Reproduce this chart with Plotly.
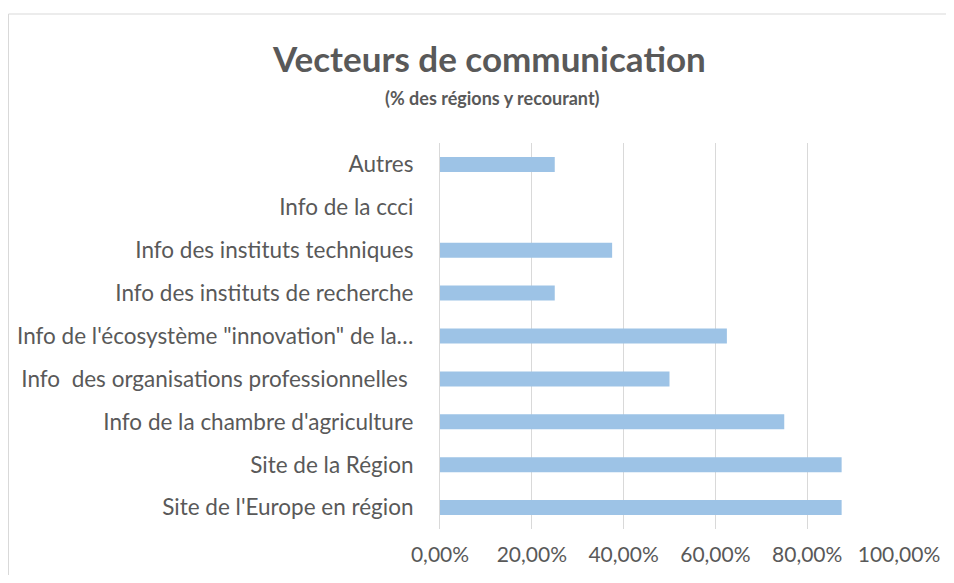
import plotly.graph_objects as go

categories = [
    "Autres",
    "Info de la ccci",
    "Info des instituts techniques",
    "Info des instituts de recherche",
    "Info de l'écosystème \"innovation\" de la…",
    "Info\u00a0 des organisations professionnelles\u00a0",
    "Info de la chambre d'agriculture",
    "Site de la Région",
    "Site de l'Europe en région",
]
values = [0.25, 0.0, 0.375, 0.25, 0.625, 0.50, 0.75, 0.875, 0.875]
x_ticks = [0, 0.2, 0.4, 0.6, 0.8, 1.0]

OFF = 8  # page body margin
W, H = 954 - 2 * OFF, 583 - 2 * OFF
# plot area in screen pixels: x 440..899, y 143..529
L = 440 - OFF
R = W - (899 - OFF)
T = 143 - OFF
B = H - (529 - OFF)
pw, ph = W - L - R, H - T - B

def px(x):
    return (x - OFF - L) / pw

def py(y):
    return (H - B - (y - OFF)) / ph

FONT = "Lato, Calibri, sans-serif"
GREY = "#595959"

fig = go.Figure(go.Bar(
    y=categories, x=values, orientation="h",
    marker=dict(color="#9dc3e6", line=dict(width=0)),
    width=0.35,
))

fig.update_layout(
    width=W, height=H,
    margin=dict(l=L, r=R, t=T, b=B, autoexpand=False),
    paper_bgcolor="white", plot_bgcolor="white",
    separators=", ",
    showlegend=False,
    font=dict(family=FONT, color=GREY, size=21),
    xaxis=dict(
        range=[0, 1], tickvals=x_ticks, tickformat=".2%",
        showgrid=True, gridcolor="#d9d9d9", gridwidth=1,
        zeroline=False, showline=False, ticks="",
        ticklabelstandoff=11,
        tickfont=dict(family=FONT, size=21, color=GREY),
        fixedrange=True,
    ),
    yaxis=dict(
        autorange="reversed", showgrid=False, zeroline=False,
        showline=True, linecolor="#d9d9d9", linewidth=1,
        ticks="", ticklabelstandoff=21,
        tickfont=dict(family=FONT, size=22.5, color=GREY),
    ),
    shapes=[dict(
        type="rect", xref="paper", yref="paper",
        x0=px(OFF + 0.5), x1=px(1000), y0=py(620), y1=py(14),
        line=dict(color="#d9d9d9", width=1), fillcolor="rgba(0,0,0,0)",
        layer="below",
    )],
    annotations=[
        dict(text="<b>Vecteurs de communication</b>", xref="paper", yref="paper",
             x=px(489), y=py(58), showarrow=False, xanchor="center", yanchor="middle",
             font=dict(family=FONT, size=35, color=GREY)),
        dict(text="<b>(% des régions y recourant)</b>", xref="paper", yref="paper",
             x=px(492), y=py(98), showarrow=False, xanchor="center", yanchor="middle",
             font=dict(family=FONT, size=18, color=GREY)),
    ],
)

fig.write_html("out.html")
